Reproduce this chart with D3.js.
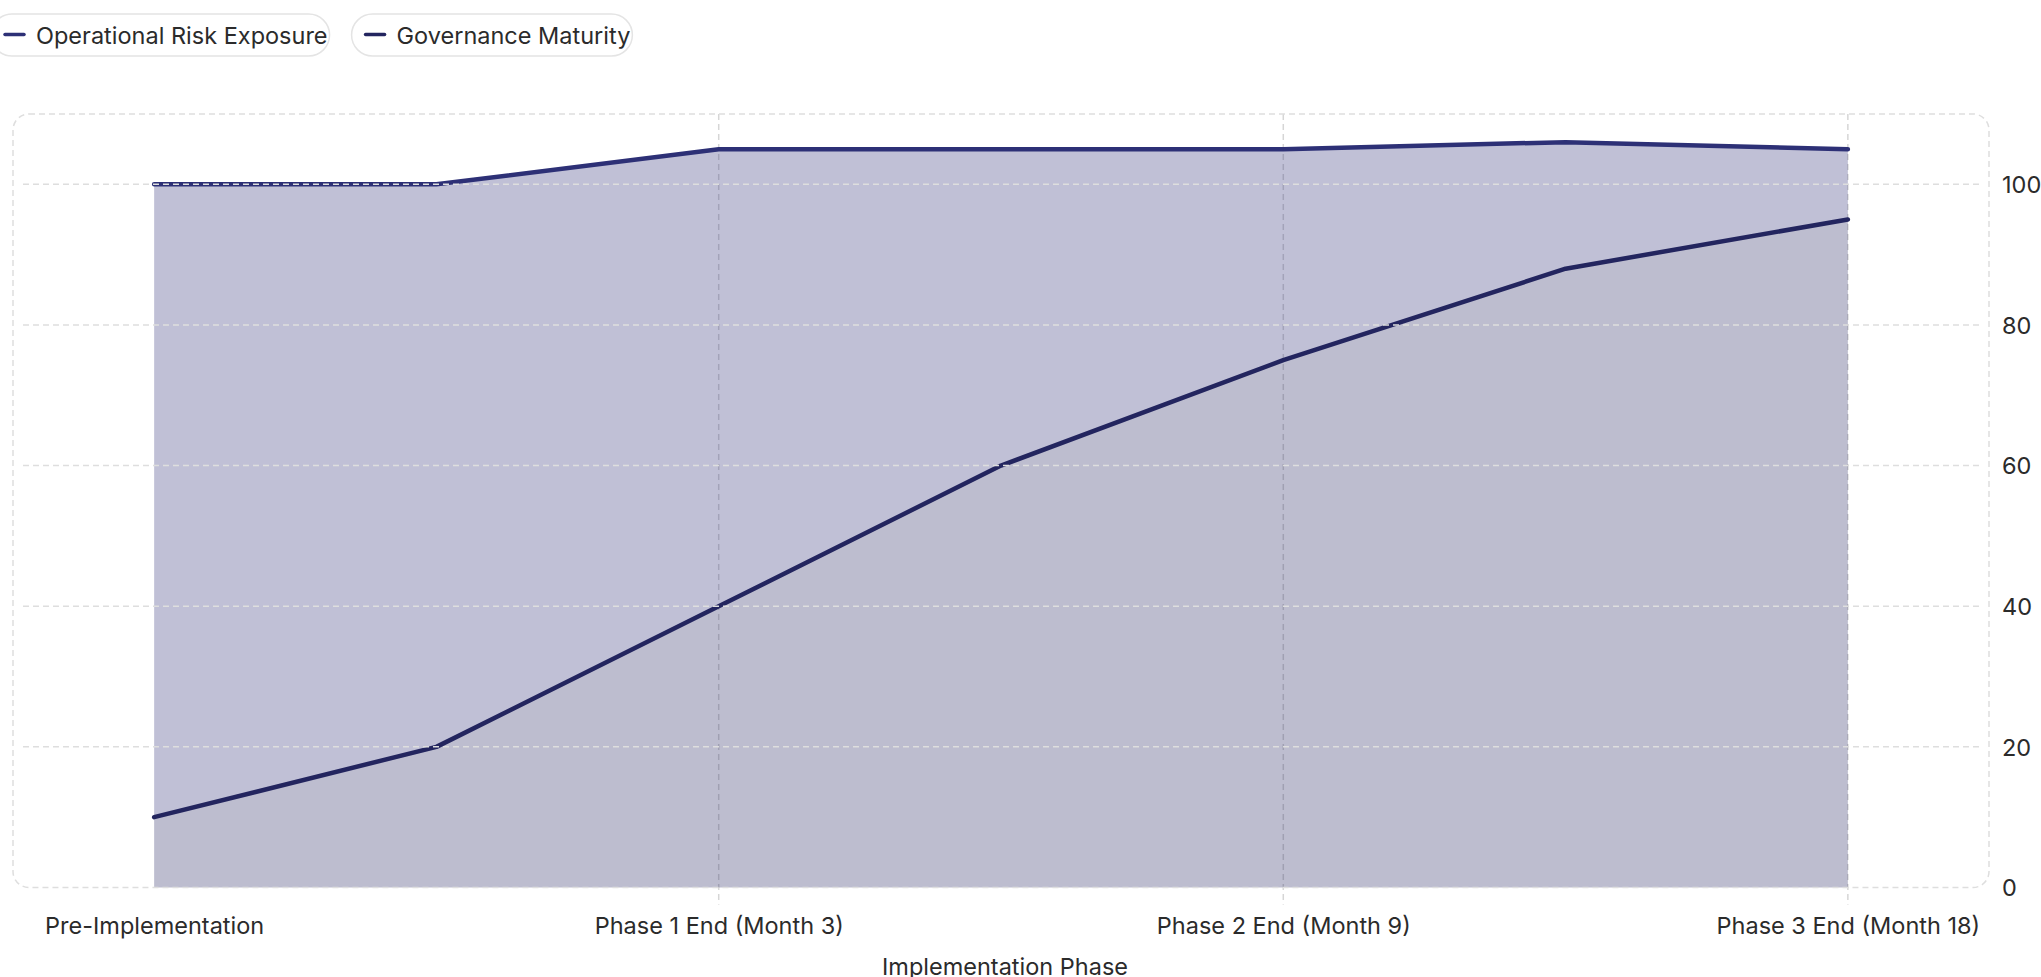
<!DOCTYPE html>
<html>
<head>
<meta charset="utf-8">
<script src="https://cdn.jsdelivr.net/npm/d3@7/dist/d3.min.js"></script>
<style>
  html, body { margin: 0; padding: 0; background: #ffffff; }
  svg { display: block; }
  text { font-family: Inter, "Noto Sans", sans-serif; fill: #2b2b2b; }
</style>
</head>
<body>
<svg id="chart" width="2041" height="977"></svg>
<script>
// ---- data ----
const categories = [
  "Pre-Implementation",
  "Interim A",
  "Phase 1 End (Month 3)",
  "Interim B",
  "Phase 2 End (Month 9)",
  "Interim C",
  "Phase 3 End (Month 18)"
];
const tickLabels = [
  "Pre-Implementation",
  "Phase 1 End (Month 3)",
  "Phase 2 End (Month 9)",
  "Phase 3 End (Month 18)"
];
const governanceMaturity = [10, 20, 40, 60, 75, 88, 95];
const operationalRiskExposure = [90, 80, 65, 45, 30, 18, 10];
const yTicks = [0, 20, 40, 60, 80, 100];
const seriesNames = ["Operational Risk Exposure", "Governance Maturity"];
const seriesColors = { "Operational Risk Exposure": "#2d3076", "Governance Maturity": "#23255f" };
const xTitle = "Implementation Phase";

// ---- layout ----
const W = 2041, H = 977;
const box = { left: 13, right: 1989, top: 114, bottom: 887.5 };
const svg = d3.select("#chart");
const FS = "23.5px";

const x = d3.scalePoint().domain(categories).range([box.left, box.right]).padding(0.5);
const y = d3.scaleLinear().domain([0, 110]).range([box.bottom, box.top]);

const rows = categories.map((c, i) => ({
  cat: c,
  "Governance Maturity": governanceMaturity[i],
  "Operational Risk Exposure": operationalRiskExposure[i]
}));
const stack = d3.stack().keys(["Governance Maturity", "Operational Risk Exposure"]);
const layers = stack(rows);

const gridColor = "#dedede";

// vertical grid (under areas)
const vLabels = tickLabels.slice(1);
svg.append("g").selectAll("line").data(vLabels).join("line")
  .attr("x1", d => x(d)).attr("x2", d => x(d))
  .attr("y1", box.top).attr("y2", box.bottom + 17)
  .attr("stroke", "#d6d6d6").attr("stroke-width", 1.5)
  .attr("stroke-dasharray", "6,4");

// areas
const area = d3.area()
  .x(d => x(d.data.cat))
  .y0(d => y(d[0]))
  .y1(d => y(d[1]));
svg.append("g").selectAll("path").data(layers).join("path")
  .attr("d", area)
  .attr("fill", d => seriesColors[d.key])
  .attr("fill-opacity", 0.3);

// lines
const line = d3.line()
  .x(d => x(d.data.cat))
  .y(d => y(d[1]));
svg.append("g").selectAll("path").data(layers).join("path")
  .attr("d", line)
  .attr("fill", "none")
  .attr("stroke", d => seriesColors[d.key])
  .attr("stroke-width", 4.5)
  .attr("stroke-linecap", "round")
  .attr("stroke-linejoin", "round");

// horizontal grid (on top)
svg.append("g").selectAll("line").data(yTicks.filter(t => t > 0)).join("line")
  .attr("x1", box.left + 10).attr("x2", box.right - 10)
  .attr("y1", d => y(d)).attr("y2", d => y(d))
  .attr("stroke", gridColor).attr("stroke-width", 1.5)
  .attr("stroke-dasharray", "6,4");

// plot border (rounded dashed box)
svg.append("rect")
  .attr("x", box.left).attr("y", box.top)
  .attr("width", box.right - box.left).attr("height", box.bottom - box.top)
  .attr("rx", 16).attr("ry", 16)
  .attr("fill", "none")
  .attr("stroke", gridColor).attr("stroke-width", 1.5)
  .attr("stroke-dasharray", "6,4");

// y axis labels (right)
const yAxis = d3.axisRight(y).tickValues(yTicks).tickSize(0).tickPadding(0);
const gy = svg.append("g").attr("transform", `translate(${box.right + 13},0)`).call(yAxis);
gy.select(".domain").remove();
gy.selectAll("text")
  .attr("x", 0).attr("dy", "0.35em")
  .style("font-family", "Inter, 'Noto Sans', sans-serif")
  .style("font-size", FS).attr("fill", "#2b2b2b");

// x axis labels
const xAxis = d3.axisBottom(x).tickValues(tickLabels).tickSize(0).tickPadding(0);
const gx = svg.append("g").attr("transform", `translate(0,${box.bottom})`).call(xAxis);
gx.select(".domain").remove();
gx.selectAll("text")
  .attr("y", 46.5).attr("dy", 0)
  .style("font-family", "Inter, 'Noto Sans', sans-serif")
  .style("font-size", FS).attr("fill", "#2b2b2b");

// x axis title
svg.append("text")
  .attr("x", (box.left + box.right) / 2 + 4).attr("y", 975)
  .attr("text-anchor", "middle")
  .style("font-size", FS)
  .text(xTitle);

// legend (pills)
const legend = svg.append("g");
let lx = -9;
seriesNames.forEach(name => {
  const g = legend.append("g");
  const pill = g.append("rect");
  g.append("line")
    .attr("x1", lx + 14).attr("x2", lx + 33)
    .attr("y1", 34.5).attr("y2", 34.5)
    .attr("stroke", seriesColors[name]).attr("stroke-width", 3.5)
    .attr("stroke-linecap", "round");
  const t = g.append("text")
    .attr("x", lx + 45).attr("y", 43.5)
    .style("font-size", FS)
    .text(name);
  const tw = t.node().getComputedTextLength();
  const pw = 45 + tw + 2;
  pill.attr("x", lx).attr("y", 14).attr("width", pw).attr("height", 42)
    .attr("rx", 21).attr("ry", 21)
    .attr("fill", "#ffffff").attr("stroke", "#e4e4e4").attr("stroke-width", 1.5);
  lx += pw + 22;
});
</script>
</body>
</html>
